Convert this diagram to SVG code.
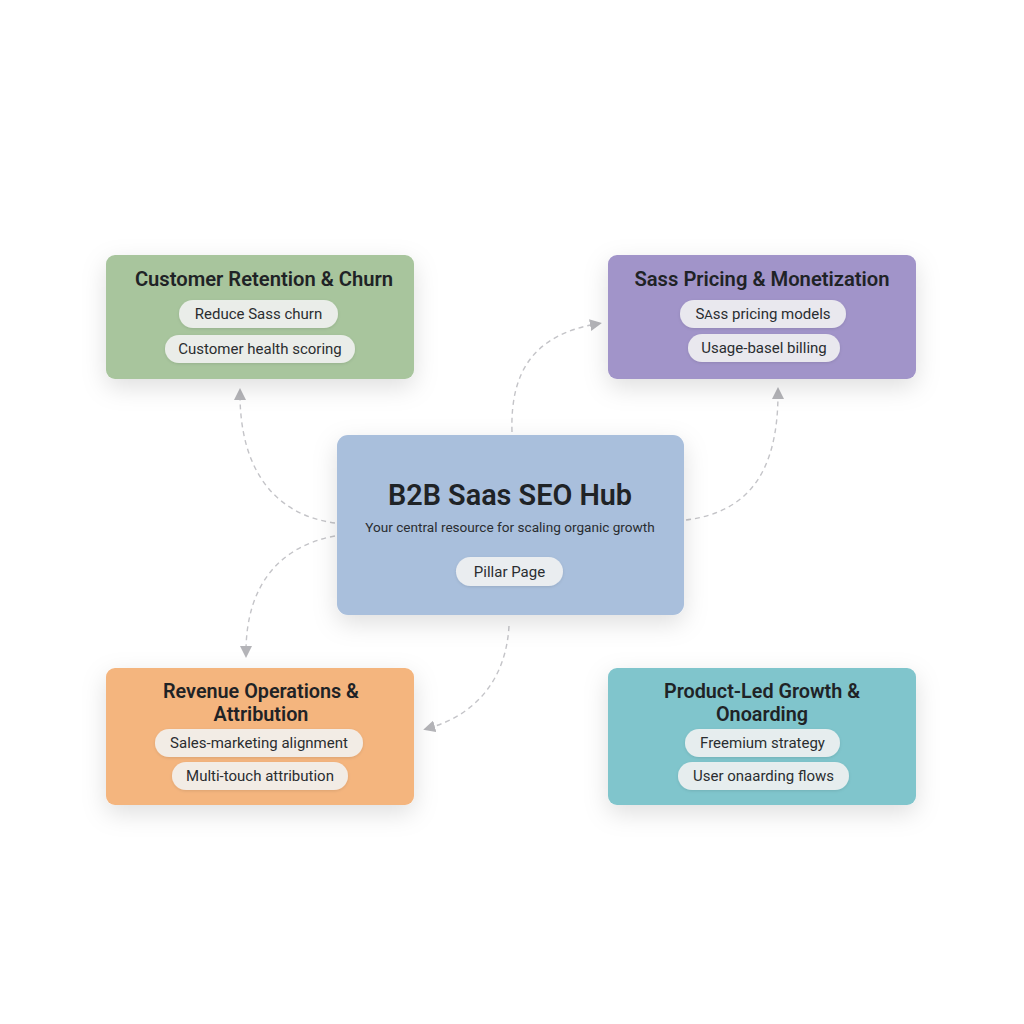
<svg xmlns="http://www.w3.org/2000/svg" width="1024" height="1024" viewBox="0 0 1024 1024">
<defs>
<filter id="sh" x="-30%" y="-30%" width="160%" height="170%">
<feDropShadow dx="0" dy="8" stdDeviation="12" flood-color="#000" flood-opacity="0.13"/>
</filter>
<filter id="psh" x="-20%" y="-40%" width="140%" height="180%">
<feDropShadow dx="0" dy="1" stdDeviation="1.5" flood-color="#000" flood-opacity="0.12"/>
</filter>
<marker id="arr" viewBox="0 0 10 10" refX="5" refY="5" markerWidth="12" markerHeight="12" markerUnits="userSpaceOnUse" orient="auto">
<path d="M0,0 L10,5 L0,10 Z" fill="#b4b4b8"/>
</marker>
<style>
.title{font-family:Roboto,"Liberation Sans",sans-serif;font-weight:600;fill:#1f2326;text-anchor:middle}
.pill{fill:#f4f4f4;fill-opacity:0.88;filter:url(#psh)}
.pt{font-family:Roboto,"Liberation Sans",sans-serif;font-size:15px;fill:#2a2d30;text-anchor:middle}
.sub{font-family:Roboto,"Liberation Sans",sans-serif;font-size:13.6px;fill:#2a2d30;text-anchor:middle}
.conn{fill:none;stroke:#c4c4c8;stroke-width:1.4;stroke-dasharray:5 4;marker-end:url(#arr)}
</style>
</defs>
<rect width="1024" height="1024" fill="#ffffff"/>
<g id="connectors">
<path class="conn" d="M335,523 C275,515 240,470 240,394"/>
<path class="conn" d="M335,536 C280,546 246,585 246,652"/>
<path class="conn" d="M512,432 C510,370 535,335 596,324"/>
<path class="conn" d="M686,520 C750,512 778,470 778,393"/>
<path class="conn" d="M509,626 C506,680 475,715 429,728"/>
</g>
<g id="retention">
<rect x="106" y="255" width="308" height="124" rx="9" fill="#a8c59d" filter="url(#sh)"/>
<text class="title" x="264" y="286" font-size="20.2">Customer Retention &amp; Churn</text>
<rect class="pill" x="179" y="300" width="159" height="28" rx="14"/>
<text class="pt" x="258.5" y="319">Reduce Sass churn</text>
<rect class="pill" x="165" y="335" width="190" height="28" rx="14"/>
<text class="pt" x="260" y="354">Customer health scoring</text>
</g>
<g id="pricing">
<rect x="608" y="255" width="308" height="124" rx="9" fill="#a194c9" filter="url(#sh)"/>
<text class="title" x="762" y="286" font-size="20.2">Sass Pricing &amp; Monetization</text>
<rect class="pill" x="680" y="300" width="166" height="28" rx="14"/>
<text class="pt" x="763" y="319">S<tspan font-size="13">A</tspan>ss pricing models</text>
<rect class="pill" x="688" y="334" width="152" height="28" rx="14"/>
<text class="pt" x="764" y="353">Usage-basel billing</text>
</g>
<g id="hub">
<rect x="337" y="435" width="347" height="180" rx="11" fill="#a9bfdc" filter="url(#sh)"/>
<text class="title" x="510" y="505" font-size="28.8">B2B Saas SEO Hub</text>
<text class="sub" x="510" y="532">Your central resource for scaling organic growth</text>
<rect class="pill" x="456" y="557" width="107" height="29" rx="14.5"/>
<text class="pt" x="509.5" y="577" font-size="15.5">Pillar Page</text>
</g>
<g id="revops">
<rect x="106" y="668" width="308" height="137" rx="9" fill="#f4b57e" filter="url(#sh)"/>
<text class="title" x="261" y="698" font-size="19.8">Revenue Operations &amp;</text>
<text class="title" x="261" y="721" font-size="19.8">Attribution</text>
<rect class="pill" x="155" y="729" width="208" height="28" rx="14"/>
<text class="pt" x="259" y="748">Sales-marketing alignment</text>
<rect class="pill" x="172" y="762" width="176" height="28" rx="14"/>
<text class="pt" x="260" y="781">Multi-touch attribution</text>
</g>
<g id="plg">
<rect x="608" y="668" width="308" height="137" rx="9" fill="#80c5cc" filter="url(#sh)"/>
<text class="title" x="762" y="698" font-size="19.8">Product-Led Growth &amp;</text>
<text class="title" x="762" y="721" font-size="19.8">Onoarding</text>
<rect class="pill" x="685" y="729" width="155" height="28" rx="14"/>
<text class="pt" x="762.5" y="748">Freemium strategy</text>
<rect class="pill" x="678" y="762" width="171" height="28" rx="14"/>
<text class="pt" x="763.5" y="781">User onaarding flows</text>
</g>
</svg>
